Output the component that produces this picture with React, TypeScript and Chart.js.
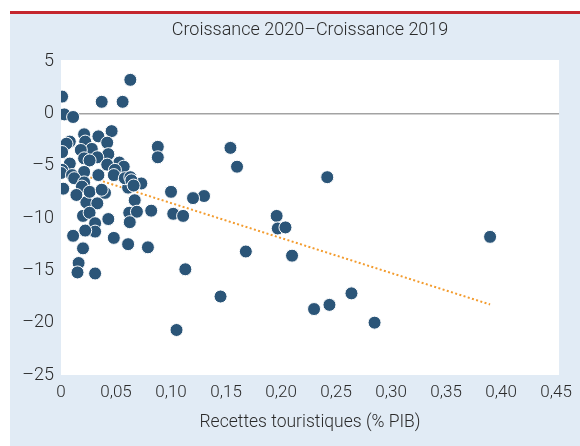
import React, { useEffect, useRef } from "react";
import { Chart, registerables } from "chart.js";

Chart.register(...registerables);

// Recettes touristiques (% PIB)
const receiptsX: number[] = [
  0.001, 0.003, 0.011, 0.037, 0.056, 0.063, 0.046, 0.088, 0.088, 0.154, 0.16, 0.242,
  0.1, 0.13, 0.12, 0.082, 0.102, 0.111, 0.196, 0.197, 0.204, 0.21, 0.168, 0.113, 0.079, 0.145,
  0.105, 0.23, 0.244, 0.264, 0.285, 0.39,
  0.002, 0.04, 0.061, 0.073, 0.023, 0.033, 0.067, 0.062, 0.069, 0.0625, 0.043, 0.02, 0.026,
  0.031, 0.031, 0.022, 0.011, 0.048, 0.061, 0.02, 0.016, 0.015, 0.031,
  0.021, 0.034, 0.008, 0.022, 0.042, 0.005, 0.028, 0.018, 0.001, 0.043, 0.033, 0.021, 0.026,
  0.053, 0.008, 0.042, 0.057, 0.001, 0.049, 0.021, 0.0, 0.01, 0.034, 0.048, 0.058, 0.012,
  0.063, 0.064, 0.021, 0.066, 0.019, 0.026, 0.037, 0.014,
];
// Croissance 2020 - Croissance 2019
const growthDiff: number[] = [
  1.6, -0.1, -0.35, 1.1, 1.1, 3.2, -1.7, -3.2, -4.2, -3.3, -5.1, -6.1,
  -7.5, -7.9, -8.1, -9.3, -9.6, -9.8, -9.8, -11.0, -10.9, -13.6, -13.2, -14.9, -12.8, -17.5,
  -20.7, -18.7, -18.3, -17.2, -20.0, -11.8,
  -7.2, -7.6, -7.1, -6.7, -8.5, -8.6, -8.3, -9.5, -9.4, -10.4, -10.1, -9.8, -9.5,
  -10.5, -11.3, -11.2, -11.7, -11.9, -12.5, -12.9, -14.3, -15.2, -15.3,
  -2.0, -2.2, -2.7, -2.7, -2.8, -2.9, -3.4, -3.5, -3.7, -3.9, -4.2, -4.3, -4.5,
  -4.7, -4.8, -4.9, -5.1, -5.4, -5.4, -5.6, -5.7, -5.9, -5.9, -5.9, -6.2, -6.2,
  -6.1, -6.4, -6.6, -6.9, -7.0, -7.5, -7.3, -7.8,
];
// Linear trend (dotted)
const trendX: number[] = [0, 0.39];
const trendY: number[] = [-5.23, -18.26];

const xTicks: number[] = [0, 0.05, 0.1, 0.15, 0.2, 0.25, 0.3, 0.35, 0.4, 0.45];
const yTicks: number[] = [-25, -20, -15, -10, -5, 0, 5];

const chartTitle = "Croissance 2020–Croissance 2019";
const xTitle = "Recettes touristiques (% PIB)";

const FONT = "Roboto, 'Liberation Sans', sans-serif";
const TEXT = "#2b2b2b";

const bgPlugin = {
  id: "bgPlugin",
  beforeDraw(chart: any) {
    const { ctx, width, height, chartArea } = chart;
    ctx.save();
    ctx.fillStyle = "#e1ebf5";
    ctx.fillRect(0, 0, width, height);
    ctx.fillStyle = "#c4262e";
    ctx.fillRect(0, 0, width, 3);
    ctx.fillStyle = "#ffffff";
    ctx.fillRect(chartArea.left, chartArea.top - 1, chartArea.right - chartArea.left, chartArea.bottom - chartArea.top + 1);
    ctx.restore();
  },
};

export default function App() {
  const ref = useRef<HTMLCanvasElement | null>(null);
  useEffect(() => {
    if (!ref.current) return;
    const points = receiptsX.map((x, i) => ({ x, y: growthDiff[i] }));
    const trend = trendX.map((x, i) => ({ x, y: trendY[i] }));
    const chart = new Chart(ref.current, {
      type: "scatter",
      data: {
        datasets: [
          {
            data: points,
            backgroundColor: "#2b5578",
            borderColor: "#ffffff",
            borderWidth: 1,
            pointRadius: 6.5,
            showLine: false,
            order: 1,
          },
          {
            data: trend,
            showLine: true,
            borderColor: "#f39c2f",
            borderWidth: 2,
            borderDash: [2, 2.4],
            pointRadius: 0,
            fill: false,
            order: 2,
          } as any,
        ],
      },
      options: {
        responsive: false,
        animation: false,
        layout: { padding: { left: 0, right: 19, top: 0, bottom: 0 } },
        plugins: {
          legend: { display: false },
          tooltip: { enabled: false },
          title: {
            display: true,
            text: chartTitle,
            fullSize: false,
            color: TEXT,
            font: { family: FONT, size: 18, weight: "300", lineHeight: 1.2 },
            padding: { top: 9, bottom: 19.4 },
          },
        },
        scales: {
          x: {
            type: "linear",
            min: 0,
            max: 0.4527,
            afterBuildTicks: (s: any) => {
              s.ticks = xTicks.map((value) => ({ value }));
            },
            afterFit: (s: any) => {
              s.height = 71;
            },
            grid: { display: false, drawTicks: false },
            border: { display: false },
            ticks: {
              padding: 8,
              color: TEXT,
              font: { family: FONT, size: 17, weight: "300", lineHeight: 1.2 },
              maxRotation: 0,
              autoSkip: false,
              callback: (v: any) => (Number(v) === 0 ? "0" : Number(v).toFixed(2).replace(".", ",")),
            },
            title: {
              display: true,
              text: xTitle,
              color: TEXT,
              font: { family: FONT, size: 17.5, weight: "300", lineHeight: 1.2 },
              padding: { top: 0, bottom: 12.5 },
            },
          },
          y: {
            type: "linear",
            min: -25,
            max: 5,
            afterBuildTicks: (s: any) => {
              s.ticks = yTicks.map((value) => ({ value }));
            },
            afterFit: (s: any) => {
              s.width = 51;
            },
            grid: {
              drawTicks: false,
              color: (c: any) => (c.tick && c.tick.value === 0 ? "#a3a3a3" : "rgba(0,0,0,0)"),
              lineWidth: (c: any) => (c.tick && c.tick.value === 0 ? 1.5 : 0),
            },
            border: { display: false },
            ticks: {
              padding: 7,
              color: TEXT,
              font: { family: FONT, size: 18, weight: "300", lineHeight: 1.2 },
              autoSkip: false,
              callback: (v: any) => (Number(v) < 0 ? "–" + String(-Number(v)) : String(v)),
            },
          },
        },
      },
      plugins: [bgPlugin],
    });
    return () => chart.destroy();
  }, []);
  return (
    <div style={{ position: "absolute", left: 10, top: 11, width: 570, height: 435 }}>
      <canvas ref={ref} width={570} height={435} />
    </div>
  );
}
